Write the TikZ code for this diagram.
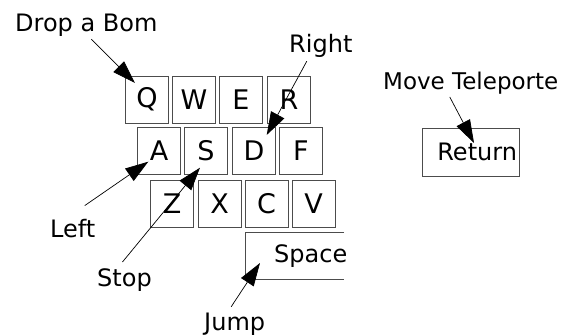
\documentclass[tikz,border=0pt]{standalone}
\usepackage{fontspec}
\setmainfont{DejaVu Sans}
\usetikzlibrary{arrows.meta,positioning,calc}

\tikzset{
    key/.style={draw=black!70, line width=0.9pt, minimum width=43pt, minimum height=47pt,
        inner sep=0pt, font=\fontsize{27}{30}\selectfont},
    lbl/.style={inner sep=0pt, anchor=base west, font=\fontsize{24}{28}\selectfont},
    arr/.style={line width=0.7pt, -{Triangle[length=23pt,width=15pt]}}
}

\begin{document}
\begin{tikzpicture}[x=1pt,y=-1pt]
    \useasboundingbox (0,0) rectangle (564,336);
    % keyboard rows
    \foreach \x/\t in {147/Q, 194/W, 241/E, 289/R}
        \node[key] (\t) at (\x,99.5) {\raisebox{-2pt}{\t}};
    \foreach \x/\t in {159/A, 206/S, 254/D, 301/F}
        \node[key] (\t) at (\x,151) {\raisebox{-2pt}{\t}};
    \foreach \x/\t in {172/Z, 219.5/X, 266.5/C, 313.5/V}
        \node[key] (\t) at (\x,203.5) {\raisebox{-2pt}{\t}};
    % space bar, open on the right
    \draw[black!70, line width=0.9pt] (344,232.5) -- (245,232.5) -- (245,279) -- (344,279);
    \node[lbl] (space) at (274,263) {Space};
    \node[key, minimum width=97pt, minimum height=48pt, text width=93pt, align=right,
        inner xsep=2pt, font=\fontsize{24}{28}\selectfont] (ret) at (470.5,152) {Return};

    % labels
    \node[lbl] (drop) at (15,32) {Drop a Bom};
    \node[lbl] (right) at (289,53) {Right};
    \node[lbl, font=\fontsize{23}{27}\selectfont] (move) at (383,90) {Move Teleporte};
    \node[lbl] (left) at (50,238) {Left};
    \node[lbl] (stop) at (97,287) {Stop};
    \node[lbl] (jump) at (204,330.5) {Jump};

    % arrow tips
    \coordinate (qtip) at ([shift={(-12,-16.5)}]Q.center);
    \coordinate (dtip) at ([shift={(12.7,-16)}]D.center);
    \coordinate (atip) at ([shift={(-10.7,10.7)}]A.center);
    \coordinate (stip) at ([shift={(-6,16.7)}]S.center);
    \coordinate (rtip) at ([shift={(3.5,-9)}]ret.center);
    \coordinate (sptip) at (260,263);

    \draw[arr] ([shift={(5,2)}]drop.south) -- (qtip);
    \draw[arr] ([shift={(-14,3)}]right.south) -- (dtip);
    \draw[arr] ([shift={(-21,2)}]move.south) -- (rtip);
    \draw[arr] ([shift={(12,-14)}]left.north) -- (atip);
    \draw[arr] ([shift={(-2,-7)}]stop.north) -- (stip);
    \draw[arr] ([shift={(-3.5,-6)}]jump.north) -- (sptip);
\end{tikzpicture}
\end{document}
